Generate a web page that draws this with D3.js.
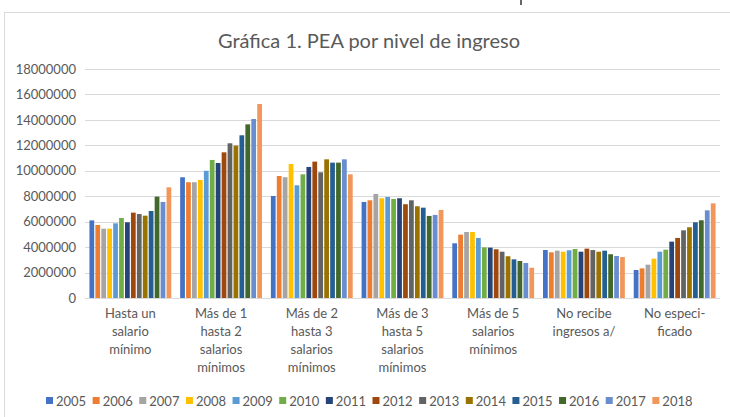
<!DOCTYPE html>
<html>
<head>
<meta charset="utf-8">
<script src="https://cdn.jsdelivr.net/npm/d3@7"></script>
<style>
  html, body { margin: 0; padding: 0; background: #fff; }
  svg { display: block; font-family: Lato, "Open Sans", sans-serif; }
</style>
</head>
<body>
<svg id="chart" width="730" height="417"></svg>
<script>
const categories = [
  ["Hasta un","salario","mínimo"],
  ["Más de 1","hasta 2","salarios","mínimos"],
  ["Más de 2","hasta 3","salarios","mínimos"],
  ["Más de 3","hasta 5","salarios","mínimos"],
  ["Más de 5","salarios","mínimos"],
  ["No recibe","ingresos a/"],
  ["No especi-","ficado"]
];
const years = ["2005","2006","2007","2008","2009","2010","2011","2012","2013","2014","2015","2016","2017","2018"];
const colors = ["#4472C4","#ED7D31","#A5A5A5","#FFC000","#5B9BD5","#70AD47","#264478","#9E480E","#636363","#997300","#255E91","#43682B","#698ED0","#F1975A"];
// values per category, one per year (2005..2018)
const hastaUn   = [6100000,5740000,5450000,5450000,5870000,6290000,5950000,6710000,6600000,6470000,6840000,7970000,7550000,8700000];
const masDe1    = [9490000,9100000,9100000,9280000,10000000,10850000,10610000,11450000,12160000,11980000,12790000,13650000,14070000,15250000];
const masDe2    = [8020000,9590000,9490000,10530000,8860000,9720000,10300000,10720000,9880000,10900000,10640000,10640000,10900000,9720000];
const masDe3    = [7550000,7680000,8180000,7840000,7940000,7780000,7840000,7370000,7680000,7210000,7100000,6450000,6530000,6920000];
const masDe5    = [4300000,4980000,5190000,5190000,4720000,3980000,3960000,3830000,3640000,3280000,3040000,2910000,2750000,2380000];
const noRecibe  = [3770000,3590000,3720000,3640000,3750000,3850000,3640000,3880000,3770000,3640000,3720000,3440000,3300000,3220000];
const noEspec   = [2200000,2330000,2620000,3090000,3640000,3800000,4430000,4720000,5320000,5560000,5950000,6110000,6890000,7440000];
const seriesByCategory = [hastaUn, masDe1, masDe2, masDe3, masDe5, noRecibe, noEspec];
const yTicks = [0,2000000,4000000,6000000,8000000,10000000,12000000,14000000,16000000,18000000];

const svg = d3.select("#chart");
const textColor = "#595959";

// chart border
svg.append("rect").attr("x",4.5).attr("y",12.5).attr("width",740).attr("height",420)
  .attr("fill","none").attr("stroke","#d9d9d9");
// small fragment at top
svg.append("line").attr("x1",521).attr("x2",521).attr("y1",0).attr("y2",5)
  .attr("stroke","#333").attr("stroke-width",1.5);

// title
svg.append("text").attr("x",369).attr("y",48).attr("text-anchor","middle")
  .attr("fill",textColor).attr("font-size",20).text("Gráfica 1. PEA por nivel de ingreso");

const plot = {left:85, right:720, top:69, bottom:298};
const x0 = d3.scaleBand().domain(d3.range(categories.length)).range([plot.left, plot.right]).paddingInner(0).paddingOuter(0);
const x1 = d3.scaleBand().domain(years).range([0, x0.bandwidth()]).paddingOuter(0.75).paddingInner(0.2);
const y = d3.scaleLinear().domain([0,18000000]).range([plot.bottom, plot.top]);

// gridlines
svg.append("g").selectAll("line").data(yTicks).join("line")
  .attr("x1",plot.left).attr("x2",plot.right)
  .attr("y1",d=>Math.round(y(d))+0.5).attr("y2",d=>Math.round(y(d))+0.5)
  .attr("stroke","#d9d9d9").attr("stroke-width",1);

// y axis labels
const yAxis = d3.axisLeft(y).tickValues(yTicks).tickFormat(d3.format("d")).tickSize(0).tickPadding(0);
const gy = svg.append("g").attr("transform",`translate(${76},0)`).call(yAxis);
gy.select(".domain").remove();
gy.selectAll("text").attr("fill",textColor).attr("font-size",13).attr("font-family","Lato, sans-serif");

// bars
const groups = svg.append("g").selectAll("g").data(seriesByCategory).join("g")
  .attr("transform",(d,i)=>`translate(${x0(i)},0)`);
groups.selectAll("rect").data(d=>d.map((v,j)=>({v, year:years[j], c:colors[j]}))).join("rect")
  .attr("x",d=>x1(d.year)).attr("width",x1.bandwidth())
  .attr("y",d=>y(d.v)).attr("height",d=>y(0)-y(d.v))
  .attr("fill",d=>d.c);

// category labels
const xl = svg.append("g");
categories.forEach((lines,i)=>{
  const t = xl.append("text").attr("x",x0(i)+x0.bandwidth()/2).attr("y",318)
    .attr("text-anchor","middle").attr("fill",textColor).attr("font-size",13);
  lines.forEach((ln,k)=>{
    t.append("tspan").attr("x",x0(i)+x0.bandwidth()/2).attr("dy",k===0?0:18).text(ln);
  });
});

// legend
const lx = d3.scaleBand().domain(years).range([46, 699]);
const lg = svg.append("g").selectAll("g").data(years).join("g")
  .attr("transform",d=>`translate(${lx(d)},401)`);
lg.append("rect").attr("x",0).attr("y",-4).attr("width",7).attr("height",7)
  .attr("fill",(d,i)=>colors[i]);
lg.append("text").attr("x",10).attr("y",4.5).attr("fill",textColor).attr("font-size",13).text(d=>d);
</script>
</body>
</html>
